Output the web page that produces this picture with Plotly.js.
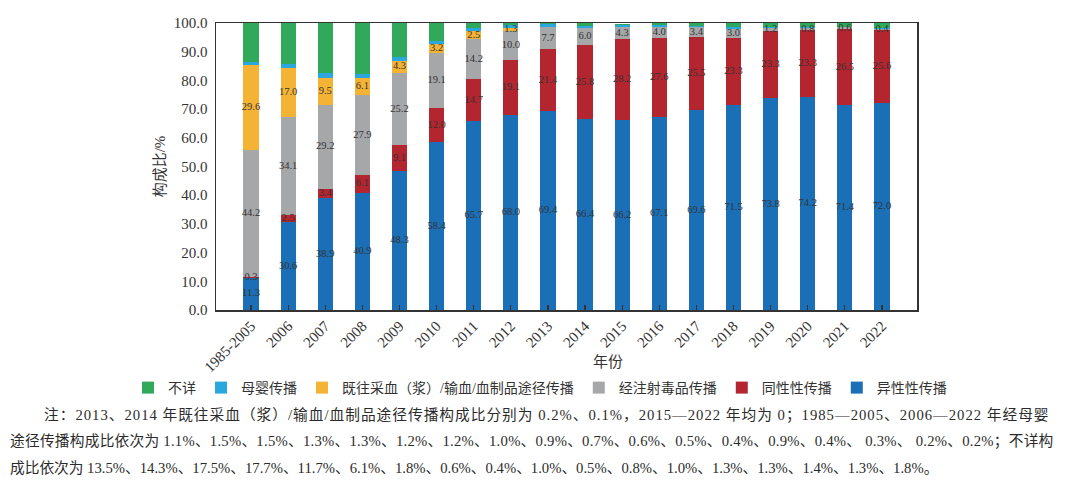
<!DOCTYPE html>
<html><head><meta charset="utf-8">
<script src="https://cdn.plot.ly/plotly-3.0.1.min.js"></script>
<style>
html,body{margin:0;padding:0;background:#fff;}
#chart{width:1080px;height:494px;}
</style>
</head><body><div id="chart"></div>
<script>
var categories = ['1985-2005','2006','2007','2008','2009','2010','2011','2012','2013','2014','2015','2016','2017','2018','2019','2020','2021','2022'];
var hetero  = [11.3,30.6,38.9,40.9,48.3,58.4,65.7,68.0,69.4,66.4,66.2,67.1,69.6,71.5,73.8,74.2,71.4,72.0];
var homo    = [0.3,2.5,3.4,6.1,9.1,12.0,14.7,19.1,21.4,25.8,28.2,27.6,25.5,23.3,23.3,23.3,26.5,25.6];
var idu     = [44.2,34.1,29.2,27.9,25.2,19.1,14.2,10.0,7.7,6.0,4.3,4.0,3.4,3.0,1.2,0.8,0.6,0.4];
var blood   = [29.6,17.0,9.5,6.1,4.3,3.2,2.5,1.3,0.2,0.1,0,0,0,0,0,0,0,0];
var mother  = [1.1,1.5,1.5,1.3,1.3,1.2,1.2,1.0,0.9,0.7,0.6,0.5,0.4,0.9,0.4,0.3,0.2,0.2];
var unknown = [13.5,14.3,17.5,17.7,11.7,6.1,1.8,0.6,0.4,1.0,0.5,0.8,1.0,1.3,1.3,1.4,1.3,1.8];
var yTickVals = [0,10,20,30,40,50,60,70,80,90,100];

var noteLines = [
  '注：2013、2014 年既往采血（浆）/输血/血制品途径传播构成比分别为 0.2%、0.1%，2015—2022 年均为 0；1985—2005、2006—2022 年经母婴',
  '途径传播构成比依次为 1.1%、1.5%、1.5%、1.3%、1.3%、1.2%、1.2%、1.0%、0.9%、0.7%、0.6%、0.5%、0.4%、0.9%、0.4%、 0.3%、 0.2%、0.2%；不详构',
  '成比依次为 13.5%、14.3%、17.5%、17.7%、11.7%、6.1%、1.8%、0.6%、0.4%、1.0%、0.5%、0.8%、1.0%、1.3%、1.3%、1.4%、1.3%、1.8%。'
];
var noteSpacing = [1.0, 0.25, 0];

var serif = '"Liberation Serif", "Times New Roman", "Noto Sans CJK SC", serif';
var textCol = '#333333';

function bar(name, vals, color){
  return {
    type:'bar', name:name, x:categories, y:vals,
    marker:{color:color}, hoverinfo:'x+y+name'
  };
}

var traces = [
  bar('异性性传播', hetero, '#1b6fb6'),
  bar('同性性传播', homo, '#b3262f'),
  bar('经注射毒品传播', idu, '#a6a7a9'),
  bar('既往采血（浆）/输血/血制品途径传播', blood, '#f5b336'),
  bar('母婴传播', mother, '#2aa7df'),
  bar('不详', unknown, '#30aa5a')
];

// value labels centred on the labelled segments (derived from the data arrays)
var labelled = [[hetero,0],[homo,0],[idu,0],[blood,1]];
var base = categories.map(function(){return 0;});
var lx=[], ly=[], lt=[];
labelled.forEach(function(pair){
  var arr = pair[0], minv = pair[1];
  arr.forEach(function(v,i){
    if (v >= minv && v > 0){ lx.push(categories[i]); ly.push(base[i] + v/2); lt.push(v.toFixed(1)); }
    base[i] += v;
  });
});
traces.push({
  type:'scatter', mode:'text', x:lx, y:ly, text:lt, textposition:'middle center',
  textfont:{family:serif, size:10.5, color:textCol}, showlegend:false, hoverinfo:'skip', cliponaxis:false
});

var W=1080, H=494, L=216, R=917, T=23, B=310;
function px(x){ return (x-L)/(R-L); }
function py(y){ return (B-y)/(B-T); }

var annotations = [
  {text:'年份', xref:'paper', yref:'paper', x:px(608), y:py(362), xanchor:'center', yanchor:'middle', showarrow:false, font:{family:serif, size:15, color:textCol}}
];
var noteX = [42, 8, 8], noteY = [415, 441, 468];
noteLines.forEach(function(t,i){
  var txt = noteSpacing[i] ? '<span style="letter-spacing:' + noteSpacing[i] + 'px">' + t + '</span>' : t;
  annotations.push({text:txt, xref:'paper', yref:'paper', x:px(noteX[i]), y:py(noteY[i]), xanchor:'left', yanchor:'middle', showarrow:false, font:{family:serif, size:14.7, color:'#2b2b2b'}});
});

var layout = {
  width:W, height:H,
  margin:{l:L, r:W-R, t:T, b:H-B, pad:0},
  barmode:'stack', bargap:0.59,
  paper_bgcolor:'#fff', plot_bgcolor:'#fff',
  showlegend:true,
  font:{family:serif, color:textCol},
  xaxis:{
    type:'category', tickangle:-45, ticks:'inside', ticklen:5, tickcolor:'#333', tickwidth:1.2,
    showline:true, linecolor:'#333', linewidth:1.5, mirror:true,
    tickfont:{family:serif, size:15, color:textCol}, showgrid:false
  },
  yaxis:{
    range:[0,100], tickvals:yTickVals, tickformat:'.1f', ticks:'', ticklabelstandoff:4,
    showline:true, linecolor:'#333', linewidth:1.5, mirror:true,
    showgrid:false, zeroline:false,
    tickfont:{family:serif, size:15, color:textCol},
    title:{text:'构成比/%', font:{family:serif, size:15, color:textCol}, standoff:4}
  },
  legend:{
    orientation:'h', traceorder:'reversed', x:px(128), xanchor:'left', y:py(388), yanchor:'middle',
    font:{family:serif, size:14, color:textCol}, bgcolor:'rgba(0,0,0,0)'
  },
  annotations:annotations
};

Plotly.newPlot('chart', traces, layout, {displayModeBar:false, staticPlot:true});
</script>
</body></html>
